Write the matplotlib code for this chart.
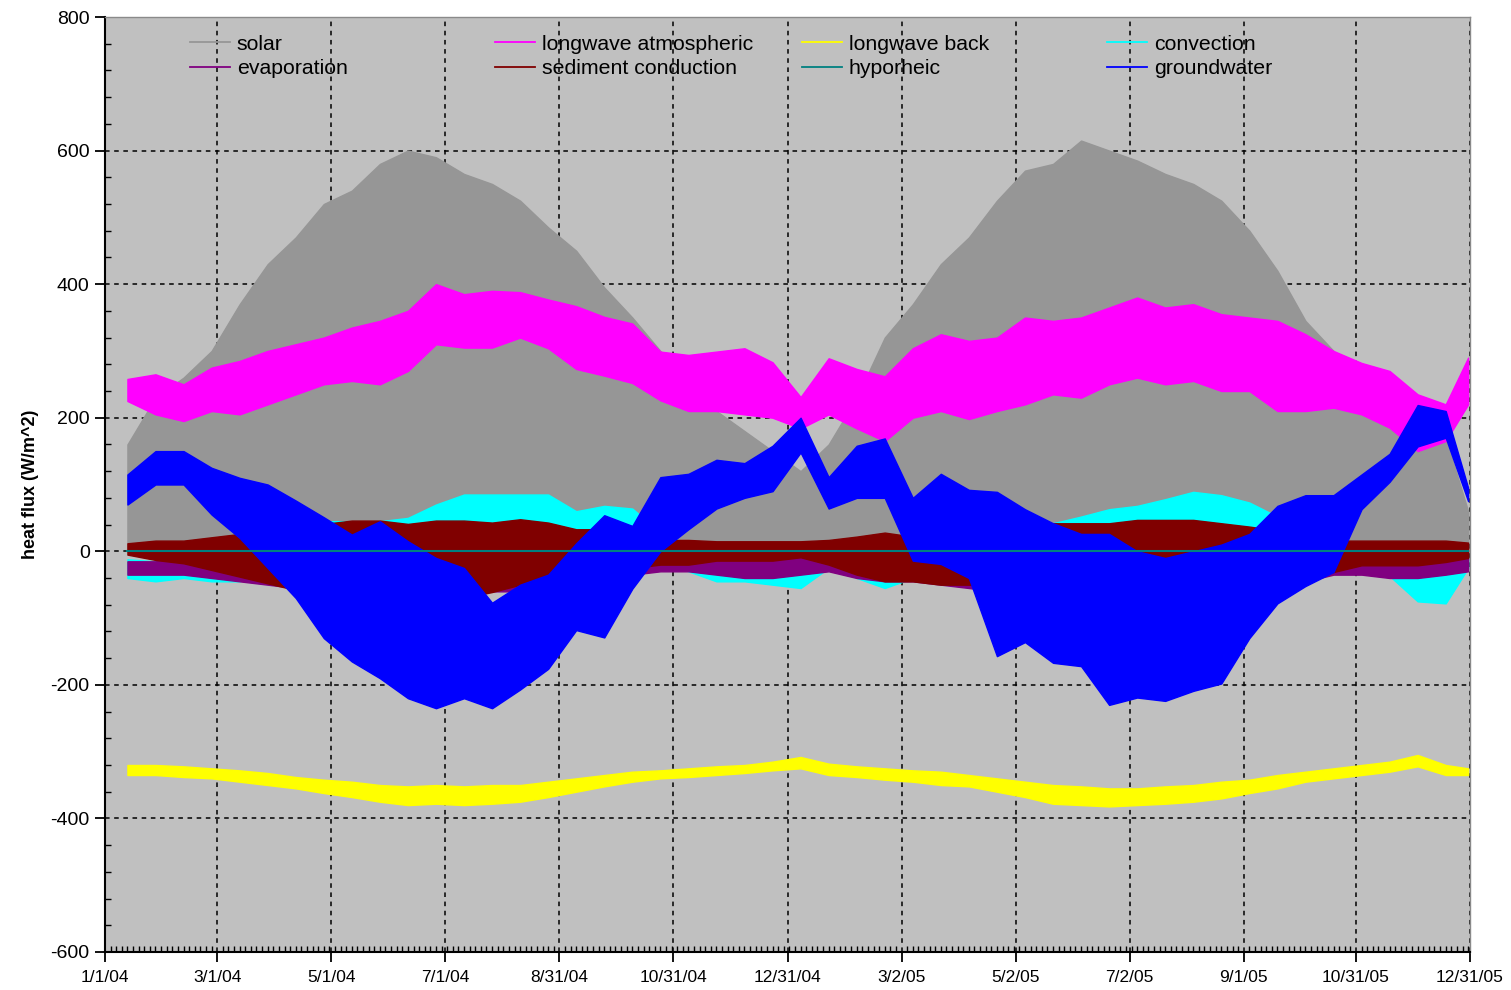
import matplotlib
matplotlib.use("Agg")
import matplotlib.pyplot as plt
import matplotlib.dates as mdates
from matplotlib.lines import Line2D
from matplotlib.ticker import MultipleLocator, FixedLocator
import numpy as np
import pandas as pd

# sample dates (every 15 days) plus the last day
dates = list(pd.date_range("2004-01-13", periods=48, freq="15D")) + [pd.Timestamp("2005-12-30")]

# upper envelope of solar (W/m^2), lower edge is 0
solar_hi = [160, 230, 260, 300, 370, 430, 470, 520, 540, 580, 600, 590, 565,
            550, 525, 485, 450, 395, 350, 300, 260, 210, 180, 150, 120, 160,
            230, 320, 370, 430, 470, 525, 570, 580, 615, 600, 585, 565, 550,
            525, 480, 420, 345, 300, 230, 200, 200, 170, 60]

lwatm_lo = [225, 205, 195, 210, 205, 220, 235, 250, 255, 250, 270, 310, 305,
            305, 320, 304, 273, 263, 252, 226, 210, 210, 205, 200, 184, 205,
            184, 165, 200, 210, 198, 210, 220, 235, 230, 250, 260, 250, 255,
            240, 240, 210, 210, 215, 205, 185, 150, 165, 220]
lwatm_hi = [258, 265, 250, 275, 285, 300, 310, 320, 335, 345, 360, 400, 385,
            390, 388, 377, 367, 351, 341, 299, 294, 299, 304, 283, 231, 289,
            273, 262, 304, 325, 315, 320, 350, 345, 350, 365, 380, 365, 370,
            355, 350, 345, 325, 300, 282, 270, 235, 220, 290]

lwback_lo = [-335, -335, -338, -340, -345, -350, -355, -362, -368, -375, -380, -378, -380,
             -378, -375, -368, -360, -352, -345, -340, -338, -335, -332, -328, -325, -335,
             -338, -342, -345, -350, -352, -360, -368, -378, -380, -382, -380, -378, -375,
             -370, -362, -355, -345, -340, -335, -330, -322, -335, -335]
lwback_hi = [-320, -320, -322, -325, -328, -332, -338, -342, -345, -350, -352, -350, -352,
             -350, -350, -345, -340, -335, -330, -328, -325, -322, -320, -315, -308, -318,
             -322, -325, -328, -330, -335, -340, -345, -350, -352, -355, -355, -352, -350,
             -345, -342, -335, -330, -325, -320, -315, -305, -320, -325]

conv_lo = [-40, -45, -40, -45, -45, -30, -10, 0, 5, 5, 5, 10, 10,
           10, 10, 10, 5, 5, 0, -10, -30, -45, -45, -50, -55, -25,
           -40, -55, -40, -30, -10, 0, 0, 0, 0, 5, 5, 5, 10,
           10, 5, 0, -40, -26, -31, -37, -75, -78, -25]
conv_hi = [-12, -15, -15, -20, -15, 20, 50, 45, 45, 45, 50, 70, 85,
           85, 85, 85, 60, 68, 64, 28, 10, 5, 5, 0, 0, 5,
           5, 5, 5, 10, 42, 52, 37, 42, 52, 63, 68, 78, 89,
           84, 73, 52, 21, 0, 0, -5, -20, -20, -10]

evap_lo = [-35, -35, -35, -40, -45, -50, -55, -60, -65, -70, -70, -70, -65,
           -60, -60, -55, -50, -40, -35, -30, -30, -35, -40, -40, -35, -30,
           -40, -45, -45, -50, -55, -60, -60, -60, -60, -60, -60, -60, -60,
           -60, -60, -55, -45, -35, -35, -40, -40, -35, -30]
evap_hi = [-15, -15, -10, -10, -15, -15, -15, -15, -20, -20, -20, -20, -20,
           -20, -15, -15, -10, -10, -10, -5, -5, -5, -5, -5, -5, -5,
           -10, -10, -10, -10, -10, -15, -15, -15, -15, -15, -15, -15, -15,
           -15, -15, -10, -10, -10, -10, -15, -15, -10, -10]

sed_lo = [-5, -13, -18, -28, -38, -48, -58, -68, -78, -88, -78, -78, -70,
          -61, -50, -50, -35, -30, -25, -20, -20, -14, -14, -14, -9, -20,
          -35, -45, -45, -50, -50, -52, -52, -57, -55, -63, -57, -57, -63,
          -57, -52, -47, -42, -31, -21, -21, -21, -16, -10]
sed_hi = [12, 16, 16, 21, 26, 31, 36, 41, 46, 46, 41, 46, 46,
          43, 48, 43, 33, 33, 28, 17, 17, 15, 15, 15, 15, 17,
          22, 28, 22, 25, 25, 42, 40, 42, 42, 42, 47, 47, 47,
          42, 37, 31, 21, 16, 16, 16, 16, 16, 13]

hyporheic = [0.0] * len(dates)

gw_lo = [70, 100, 100, 55, 20, -25, -70, -130, -165, -190, -220, -235, -220,
         -235, -207, -176, -118, -129, -56, 0, 33, 64, 80, 90, 148, 64,
         80, 80, -14, -19, -40, -157, -136, -167, -172, -230, -219, -224, -209,
         -198, -130, -78, -52, -31, 63, 104, 157, 170, 75]
gw_hi = [115, 150, 150, 125, 110, 100, 76, 51, 25, 45, 15, -10, -25,
         -77, -50, -35, 12, 54, 38, 111, 116, 137, 132, 158, 200, 111,
         158, 169, 80, 116, 92, 89, 63, 42, 26, 26, 0, -10, 0,
         10, 26, 68, 84, 84, 115, 146, 219, 210, 95]

tick_dates = ["2004-01-01", "2004-03-01", "2004-05-01", "2004-07-01", "2004-08-31",
              "2004-10-31", "2004-12-31", "2005-03-02", "2005-05-02", "2005-07-02",
              "2005-09-01", "2005-10-31", "2005-12-31"]
tick_labels = ["1/1/04", "3/1/04", "5/1/04", "7/1/04", "8/31/04", "10/31/04", "12/31/04",
               "3/2/05", "5/2/05", "7/2/05", "9/1/05", "10/31/05", "12/31/05"]

plt.rcParams["font.family"] = ["Liberation Sans", "DejaVu Sans"]
plt.rcParams["axes.unicode_minus"] = False

fig = plt.figure(figsize=(15.11, 9.90), dpi=100)
ax = fig.add_axes([105 / 1511, 1 - 952 / 990, 1365 / 1511, 935 / 990])
ax.set_facecolor("#C0C0C0")
ax.set_axisbelow(True)

series = [
    ("solar", [0.0] * len(dates), solar_hi, "#969696"),
    ("longwave atmospheric", lwatm_lo, lwatm_hi, "#FF00FF"),
    ("longwave back", lwback_lo, lwback_hi, "#FFFF00"),
    ("convection", conv_lo, conv_hi, "#00FFFF"),
    ("evaporation", evap_lo, evap_hi, "#800080"),
    ("sediment conduction", sed_lo, sed_hi, "#800000"),
]
handles = {}
for name, lo, hi, col in series:
    ax.fill_between(dates, lo, hi, color=col, lw=1.0, edgecolor=col)
    handles[name] = Line2D([], [], color=col, lw=1.3)

ax.plot(dates, hyporheic, color="#008080", lw=1.5)
handles["hyporheic"] = Line2D([], [], color="#008080", lw=1.3)
ax.fill_between(dates, gw_lo, gw_hi, color="#0000FF", lw=1.0, edgecolor="#0000FF")
handles["groundwater"] = Line2D([], [], color="#0000FF", lw=1.3)

# axes
ax.set_ylim(-600, 800)
ax.yaxis.set_major_locator(MultipleLocator(200))
ax.yaxis.set_minor_locator(MultipleLocator(40))
ax.set_xlim(pd.Timestamp("2004-01-01"), pd.Timestamp("2005-12-31"))
ax.xaxis.set_major_locator(FixedLocator(mdates.date2num(pd.to_datetime(tick_dates))))
ax.set_xticklabels(tick_labels)
ax.xaxis.set_minor_locator(FixedLocator(mdates.date2num(
    pd.date_range("2004-01-01", "2005-12-31", freq="3D"))))

ax.tick_params(axis="both", which="major", direction="out", length=7, width=1.3, colors="black")
ax.tick_params(axis="both", which="minor", direction="in", length=4, width=1.0)
ax.tick_params(axis="y", which="major", labelsize=14, pad=4)
ax.tick_params(axis="x", which="major", labelsize=12.5, pad=6)

ax.grid(True, which="major", color="black", linestyle=(0, (3, 3)), lw=1.1)

for side in ["left", "bottom"]:
    ax.spines[side].set_color("black")
    ax.spines[side].set_linewidth(1.5)
for side in ["top", "right"]:
    ax.spines[side].set_color("#8a8a8a")
    ax.spines[side].set_linewidth(1.0)

ax.set_ylabel("heat flux (W/m^2)", fontsize=13, fontweight="bold", labelpad=8)

# legend: 4 columns placed like the original
columns = [("solar", "evaporation"), ("longwave atmospheric", "sediment conduction"),
           ("longwave back", "hyporheic"), ("convection", "groundwater")]
col_px = [190, 495, 802, 1107]
legends = []
for names, px in zip(columns, col_px):
    leg = ax.legend([handles[n] for n in names], list(names), loc="upper left",
                    bbox_to_anchor=((px - 105) / 1365, 0.981), frameon=False,
                    fontsize=15.3, handlelength=1.9, handletextpad=0.3,
                    labelspacing=0.25, borderpad=0, borderaxespad=0)
    legends.append(leg)
for leg in legends[:-1]:
    ax.add_artist(leg)

fig.savefig("out.png", dpi=100)
